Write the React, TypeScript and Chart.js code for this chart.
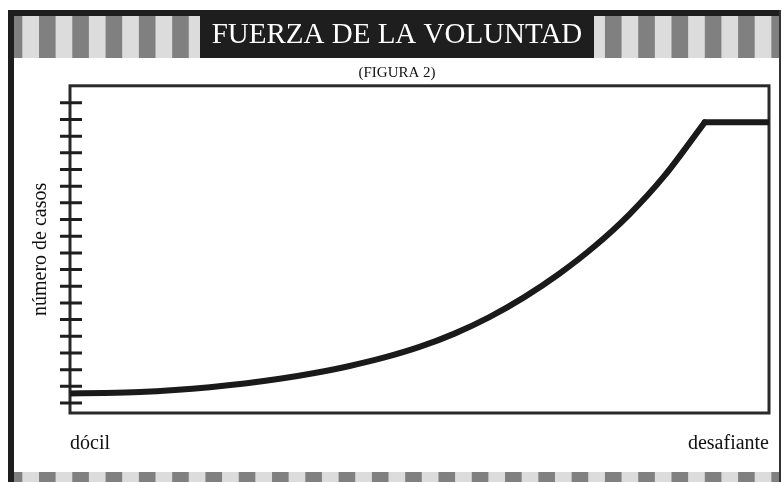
import React, { useEffect, useRef } from "react";
import { Chart, registerables } from "chart.js";

Chart.register(...registerables);

const TITLE = "FUERZA DE LA VOLUNTAD";
const SUBTITLE = "(FIGURA 2)";
const Y_LABEL = "número de casos";
const X_LABELS = ["dócil", "desafiante"];
const X_TICK_VALUES = [0, 100];
const Y_TICK_VALUES = [0, 1, 2, 3, 4, 5, 6, 7, 8, 9, 10, 11, 12, 13, 14, 15, 16, 17, 18];

const CURVE_X = [0, 5, 10, 15, 20, 25, 30, 35, 40, 45, 50, 55, 60, 65, 70, 75, 80, 85, 90.8];
const CURVE_Y = [0.57, 0.6, 0.66, 0.78, 0.95, 1.17, 1.45, 1.8, 2.22, 2.73, 3.36, 4.16, 5.15, 6.35, 7.75, 9.38, 11.3, 13.6, 16.83];
const PLATEAU_X = [90.8, 100];
const PLATEAU_Y = [16.83, 16.83];

const SERIF = "'Liberation Serif', 'DejaVu Serif', serif";

const framePlugin = {
  id: "frame",
  beforeDraw(chart: any) {
    const ctx = chart.ctx;
    ctx.save();
    ctx.fillStyle = "#ffffff";
    ctx.fillRect(0, 0, chart.width, chart.height);
    const drawStripes = (y0: number, h: number) => {
      ctx.fillStyle = "#dcdcdc";
      ctx.fillRect(14, y0, 766, h);
      ctx.fillStyle = "#808080";
      for (let x = 39 - 33.29 * 2; x < 780; x += 33.29) {
        const a = Math.max(x, 14);
        const b = Math.min(x + 16.6, 780);
        if (b > a) ctx.fillRect(a, y0, b - a, h);
      }
    };
    drawStripes(16, 42);
    drawStripes(472, 10);
    ctx.fillStyle = "#1e1e1e";
    ctx.fillRect(8, 10, 773, 6);
    ctx.fillRect(200, 10, 394, 48);
    ctx.fillRect(8, 10, 6, 472);
    ctx.fillStyle = "#333333";
    ctx.fillRect(779, 10, 2, 472);
    ctx.restore();
  },
  beforeDatasetsDraw(chart: any) {
    const { ctx, chartArea } = chart;
    const { left, top, right, bottom } = chartArea;
    const y = chart.scales.y;
    ctx.save();
    ctx.strokeStyle = "#2a2a2a";
    ctx.lineWidth = 3;
    ctx.strokeRect(left, top, right - left, bottom - top);
    ctx.strokeStyle = "#1e1e1e";
    ctx.beginPath();
    y.ticks.forEach((t: any) => {
      const py = y.getPixelForValue(t.value);
      ctx.moveTo(left - 10, py);
      ctx.lineTo(left + 12, py);
    });
    ctx.stroke();
    ctx.restore();
  },
};

export default function App() {
  const ref = useRef<HTMLCanvasElement | null>(null);

  useEffect(() => {
    if (!ref.current) return;
    const lineStyle = {
      borderColor: "#1a1a1a",
      borderWidth: 6,
      pointRadius: 0,
      fill: false,
      borderCapStyle: "round" as const,
      borderJoinStyle: "round" as const,
    };
    const chart = new Chart(ref.current, {
      type: "line",
      data: {
        datasets: [
          {
            ...lineStyle,
            data: CURVE_X.map((x, i) => ({ x, y: CURVE_Y[i] })),
            cubicInterpolationMode: "monotone",
          },
          {
            ...lineStyle,
            data: PLATEAU_X.map((x, i) => ({ x, y: PLATEAU_Y[i] })),
          },
        ],
      },
      options: {
        responsive: false,
        animation: false,
        devicePixelRatio: 1,
        layout: { padding: { left: 25, right: 13, top: 0, bottom: 0 } },
        plugins: {
          legend: { display: false },
          tooltip: { enabled: false },
          title: {
            display: true,
            text: TITLE,
            color: "#ffffff",
            font: { family: SERIF, size: 29, weight: "normal" },
            padding: { top: 18, bottom: 6 },
          },
          subtitle: {
            display: true,
            text: SUBTITLE,
            color: "#111111",
            font: { family: SERIF, size: 15, weight: "normal" },
            padding: { top: 5, bottom: 4 },
          },
        },
        scales: {
          x: {
            type: "linear",
            min: 0,
            max: 100,
            afterBuildTicks: (s: any) => {
              s.ticks = X_TICK_VALUES.map((v) => ({ value: v }));
            },
            afterFit: (s: any) => {
              s.height = 69;
            },
            grid: { display: false },
            border: { display: false },
            ticks: {
              autoSkip: false,
              maxRotation: 0,
              align: "inner",
              padding: 11,
              color: "#111111",
              font: { family: SERIF, size: 20 },
              callback: (_v: any, i: number) => X_LABELS[i],
            },
          },
          y: {
            type: "linear",
            min: -0.6,
            max: 19.02,
            afterBuildTicks: (s: any) => {
              s.ticks = Y_TICK_VALUES.map((v) => ({ value: v }));
            },
            afterFit: (s: any) => {
              s.width = 45;
            },
            grid: { display: false },
            border: { display: false },
            ticks: { display: false },
            title: {
              display: true,
              text: Y_LABEL,
              color: "#111111",
              font: { family: SERIF, size: 20 },
              padding: { top: 4, bottom: 0 },
            },
          },
        },
      },
      plugins: [framePlugin],
    } as any);
    return () => chart.destroy();
  }, []);

  return (
    <div style={{ position: "fixed", left: 0, top: 0, width: 782, height: 482, background: "#fff" }}>
      <canvas ref={ref} width={782} height={482} style={{ display: "block" }} />
    </div>
  );
}
